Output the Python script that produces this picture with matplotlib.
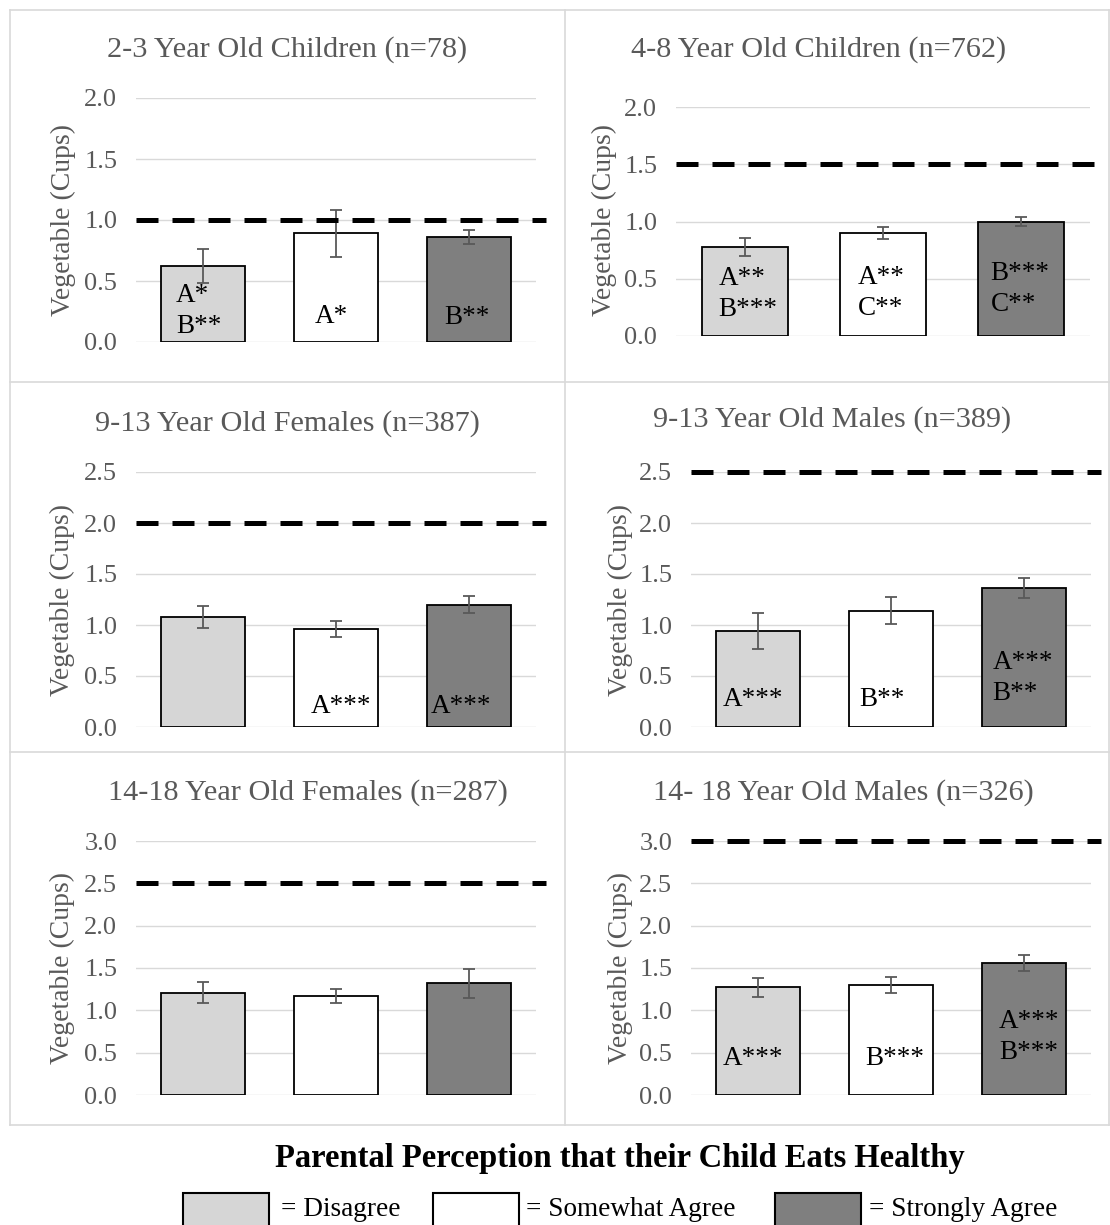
import matplotlib
matplotlib.use("Agg")
import matplotlib.pyplot as plt
from matplotlib.patches import Rectangle
from matplotlib.lines import Line2D

plt.rcParams['font.family'] = ['Liberation Serif', 'DejaVu Serif']

titles = ["2-3 Year Old Children (n=78)", "4-8 Year Old Children (n=762)",
          "9-13 Year Old Females (n=387)", "9-13 Year Old Males (n=389)",
          "14-18 Year Old Females (n=287)", "14- 18 Year Old Males (n=326)"]
groups = ["Disagree", "Somewhat Agree", "Strongly Agree"]

means = [[0.62, 0.89, 0.86],
         [0.78, 0.90, 1.00],
         [1.08, 0.96, 1.20],
         [0.94, 1.14, 1.36],
         [1.21, 1.17, 1.32],
         [1.27, 1.30, 1.56]]
errs = [[0.14, 0.19, 0.06],
        [0.08, 0.05, 0.04],
        [0.11, 0.08, 0.08],
        [0.18, 0.13, 0.10],
        [0.12, 0.08, 0.17],
        [0.11, 0.09, 0.09]]
recommended = [1.0, 1.5, 2.0, 2.5, 2.5, 3.0]
ymax = [2.0, 2.0, 2.5, 2.5, 3.0, 3.0]

# significance letters written inside bars, one list per bar
notes = [[["A*", "B**"], ["A*"], ["B**"]],
         [["A**", "B***"], ["A**", "C**"], ["B***", "C**"]],
         [[], ["A***"], ["A***"]],
         [["A***"], ["B**"], ["A***", "B**"]],
         [[], [], []],
         [["A***"], ["B***"], ["A***", "B***"]]]

colors = ["#d6d6d6", "#ffffff", "#7f7f7f"]
grey_txt = "#595959"

W, H = 1110, 1225
fig = plt.figure(figsize=(W / 100, H / 100), dpi=100)

def fx(px):
    return px / W

def fy(py):
    return 1 - py / H

# axes boxes in pixels: left, zero line, width, top line
boxes = [(136, 342, 400, 98), (676, 336, 414, 107),
         (136, 727, 400, 472), (691, 727, 400, 472),
         (136, 1095, 400, 841), (691, 1095, 400, 841)]
title_pos = [(287, 50), (819, 50), (287, 424), (832, 420), (308, 793), (843, 793)]
ylab_x = [63, 604, 62, 620, 62, 620]
ylab_y = [220, 220, 600, 600, 968, 968]
# text placement inside bars: x offset from bar centre, y of first line
note_dx = [[-0.20, -0.16, -0.19], [-0.19, -0.18, -0.22], [0, -0.19, -0.29],
           [-0.26, -0.24, -0.24], [0, 0, 0], [-0.26, -0.19, -0.19]]
note_y = [[0.38, 0.21, 0.20], [0.50, 0.51, 0.55], [0, 0.20, 0.20],
          [0.27, 0.27, 0.63], [0, 0, 0], [0.43, 0.43, 0.87]]

for k in range(6):
    left, zero, wid, top = boxes[k]
    ax = fig.add_axes([fx(left), fy(zero), fx(wid), (zero - top) / H])
    x = range(3)
    ax.bar(x, means[k], width=0.63, color=colors, edgecolor="black", linewidth=1.3, zorder=3)
    ax.errorbar(x, means[k], yerr=errs[k], fmt="none", ecolor=grey_txt,
                elinewidth=1.3, capsize=4.5, capthick=1.3, zorder=4)
    ax.axhline(recommended[k], xmin=0, xmax=1.025, color="black", lw=3.6,
               dashes=(4.4, 2.8), clip_on=False, zorder=5)
    ax.set_xlim(-0.5, 2.5)
    ax.set_ylim(0, ymax[k])
    ticks = [i * 0.5 for i in range(int(ymax[k] / 0.5) + 1)]
    ax.set_yticks(ticks)
    ax.set_yticklabels(["%.1f" % t for t in ticks], fontsize=19, color=grey_txt)
    ax.tick_params(length=0, pad=13.5)
    ax.set_xticks([])
    ax.grid(axis="y", color="#d9d9d9", lw=1, zorder=0)
    for s in ax.spines.values():
        s.set_visible(False)
    scale = (zero - top) / ymax[k]
    for b in range(3):
        for j, t in enumerate(notes[k][b]):
            yy = note_y[k][b] - j * 31 / scale
            ax.text(b + note_dx[k][b], yy, t, fontsize=19.5, color="black",
                    ha="left", va="center", zorder=6)
    tx, ty = title_pos[k]
    fig.text(fx(tx), fy(ty), titles[k], fontsize=21.8, color=grey_txt, ha="center", va="center")
    fig.text(fx(ylab_x[k]), fy(ylab_y[k]), "Vegetable (Cups)", fontsize=20, color=grey_txt,
             rotation=90, ha="center", va="center")

# panel frame lines
for px in [10, 565, 1109]:
    fig.add_artist(Line2D([fx(px), fx(px)], [fy(10), fy(1125)], color="#d9d9d9", lw=1.2))
for py in [10, 382, 752, 1125]:
    fig.add_artist(Line2D([fx(10), fx(1109)], [fy(py), fy(py)], color="#d9d9d9", lw=1.2))

fig.text(fx(620), fy(1158), "Parental Perception that their Child Eats Healthy",
         fontsize=23.5, fontweight="bold", ha="center", va="center")
leg_box_x = [183, 433, 775]
leg_text_x = [281, 526, 869]
for i in range(3):
    fig.add_artist(Rectangle((fx(leg_box_x[i]), fy(1230)), fx(86), 37 / H,
                             facecolor=colors[i], edgecolor="black", lw=1.5))
    fig.text(fx(leg_text_x[i]), fy(1209), "= " + groups[i], fontsize=19.6, ha="left", va="center")

fig.savefig("out.png", dpi=100)
